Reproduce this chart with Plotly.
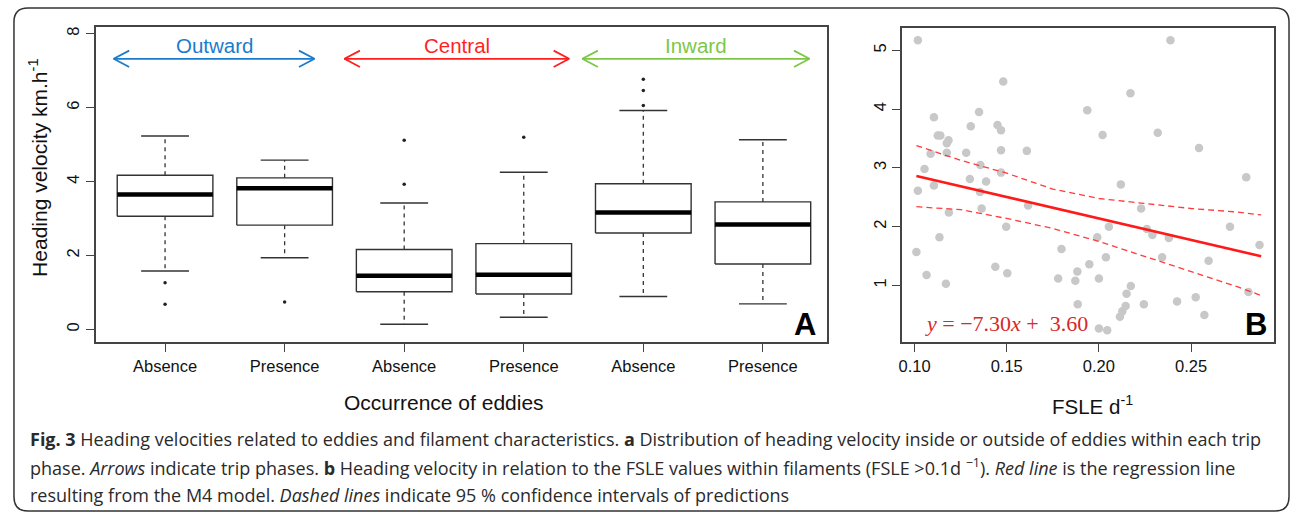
import plotly.graph_objects as go

W, H = 1292, 514

# ---------------- Panel A data (box statistics) -------------
box_labels = ["Absence", "Presence", "Absence", "Presence", "Absence", "Presence"]
box_pos = [1, 2, 3, 4, 5, 6]
lower_whisker = [1.58, 1.94, 0.14, 0.33, 0.89, 0.69]
q1 = [3.06, 2.82, 1.02, 0.96, 2.61, 1.77]
median = [3.65, 3.82, 1.45, 1.48, 3.16, 2.84]
q3 = [4.17, 4.10, 2.16, 2.32, 3.94, 3.45]
upper_whisker = [5.23, 4.58, 3.42, 4.25, 5.92, 5.13]
outlier_pos = [1, 1, 2, 3, 3, 4, 5, 5, 5]
outlier_val = [1.26, 0.68, 0.74, 5.12, 3.93, 5.20, 6.77, 6.46, 6.06]

phase_names = ["Outward", "Central", "Inward"]
phase_start = [0.57, 2.50, 4.49]
phase_end = [2.25, 4.38, 6.39]
phase_colors = ["#1b7ccc", "#ff1f1f", "#7cc846"]

# ---------------- Panel B data ----------------
fsle = [0.1018, 0.1018, 0.101, 0.1054, 0.1065, 0.1087, 0.1105, 0.1105, 0.1126, 0.114,
        0.1135, 0.1175, 0.1184, 0.1175, 0.117, 0.1186, 0.128, 0.130, 0.1305, 0.135,
        0.1357, 0.1355, 0.1364, 0.1388, 0.1438, 0.145, 0.1469, 0.1469, 0.1469, 0.1481,
        0.1497, 0.1503, 0.1609, 0.1616, 0.1779, 0.1797, 0.1872, 0.1883, 0.1885, 0.1937,
        0.1948, 0.1991, 0.2000, 0.2000, 0.202, 0.2038, 0.2045, 0.2054, 0.2119, 0.2114,
        0.2127, 0.2145, 0.215, 0.2173, 0.2171, 0.2229, 0.2244, 0.2260, 0.229, 0.2319,
        0.2343, 0.2379, 0.2388, 0.2424, 0.2525, 0.2543, 0.2572, 0.2595, 0.2711, 0.2799,
        0.2811, 0.2871]
velocity = [5.17, 2.61, 1.57, 2.98, 1.18, 3.24, 3.86, 2.70, 3.55, 3.55,
            1.82, 3.42, 3.47, 3.26, 1.03, 2.24, 3.26, 2.81, 3.71, 3.95,
            3.05, 2.59, 2.31, 2.77, 1.32, 3.73, 3.64, 3.30, 2.92, 4.47,
            2.00, 1.21, 3.29, 2.36, 1.12, 1.62, 1.08, 1.24, 0.68, 3.98,
            1.36, 1.82, 1.12, 0.27, 3.56, 1.48, 0.24, 2.00, 2.72, 0.47,
            0.56, 0.65, 0.86, 0.99, 4.27, 2.31, 0.68, 1.96, 1.86, 3.60,
            1.48, 1.81, 5.17, 0.73, 0.80, 3.34, 0.50, 1.42, 2.00, 2.84,
            0.89, 1.69]

slope, intercept = -7.30, 3.60
reg_x = [0.101, 0.288]
ci_x = [0.101, 0.125, 0.15, 0.175, 0.20, 0.225, 0.25, 0.275, 0.288]
ci_upper = [3.38, 3.13, 2.91, 2.64, 2.48, 2.39, 2.31, 2.25, 2.20]
ci_lower = [2.34, 2.29, 2.14, 1.97, 1.75, 1.49, 1.24, 0.98, 0.83]

# ---------------- build figure ----------------
fig = go.Figure()
BW = 0.8   # box width
CW = 0.4   # cap width
frame_col = "#444444"

rect_x, rect_y, wx, wy, cx, cy, mx, my = [], [], [], [], [], [], [], []
for p, lo, a, m, b, hi in zip(box_pos, lower_whisker, q1, median, q3, upper_whisker):
    rect_x += [p - BW / 2, p + BW / 2, p + BW / 2, p - BW / 2, p - BW / 2, None]
    rect_y += [a, a, b, b, a, None]
    wx += [p, p, None, p, p, None]
    wy += [b, hi, None, a, lo, None]
    cx += [p - CW / 2, p + CW / 2, None, p - CW / 2, p + CW / 2, None]
    cy += [hi, hi, None, lo, lo, None]
    mx += [p - BW / 2, p + BW / 2, None]
    my += [m, m, None]

fig.add_trace(go.Scatter(x=wx, y=wy, mode="lines", line=dict(color="#333", width=1.3, dash="4px,4px"),
                         xaxis="x", yaxis="y", showlegend=False, hoverinfo="skip"))
fig.add_trace(go.Scatter(x=cx, y=cy, mode="lines", line=dict(color="#333", width=1.4),
                         xaxis="x", yaxis="y", showlegend=False, hoverinfo="skip"))
fig.add_trace(go.Scatter(x=rect_x, y=rect_y, mode="lines", line=dict(color="#333", width=1.4),
                         xaxis="x", yaxis="y", showlegend=False, hoverinfo="skip"))
fig.add_trace(go.Scatter(x=mx, y=my, mode="lines", line=dict(color="#000", width=4.5),
                         xaxis="x", yaxis="y", showlegend=False, hoverinfo="skip"))
fig.add_trace(go.Scatter(x=outlier_pos, y=outlier_val, mode="markers",
                         marker=dict(color="#222", size=3.5),
                         xaxis="x", yaxis="y", showlegend=False, hoverinfo="skip"))

# double-headed phase arrows (shaft + open chevron heads)
ARROW_Y, LABEL_Y = 7.32, 7.68
HEAD_DX, HEAD_DY = 0.13, 0.22   # chevron size in data units
annotations = []
for name, s, e, col in zip(phase_names, phase_start, phase_end, phase_colors):
    ax_ = [s, e, None, s + HEAD_DX, s, s + HEAD_DX, None, e - HEAD_DX, e, e - HEAD_DX]
    ay_ = [ARROW_Y, ARROW_Y, None, ARROW_Y + HEAD_DY, ARROW_Y, ARROW_Y - HEAD_DY, None,
           ARROW_Y + HEAD_DY, ARROW_Y, ARROW_Y - HEAD_DY]
    fig.add_trace(go.Scatter(x=ax_, y=ay_, mode="lines", line=dict(color=col, width=1.8),
                             xaxis="x", yaxis="y", showlegend=False, hoverinfo="skip"))
    annotations.append(dict(x=(s + e) / 2, y=LABEL_Y, xref="x", yref="y", text=name,
                            xanchor="center", yanchor="middle", showarrow=False,
                            font=dict(family="Liberation Sans, Arial", size=20.5, color=col)))

# Panel B traces
fig.add_trace(go.Scatter(x=fsle, y=velocity, mode="markers",
                         marker=dict(color="#c8c8c8", size=8.5),
                         xaxis="x2", yaxis="y2", showlegend=False))
fig.add_trace(go.Scatter(x=reg_x, y=[slope * v + intercept for v in reg_x], mode="lines",
                         line=dict(color="#ff1a1a", width=2.6),
                         xaxis="x2", yaxis="y2", showlegend=False))
for ci in (ci_upper, ci_lower):
    fig.add_trace(go.Scatter(x=ci_x, y=ci, mode="lines",
                             line=dict(color="#ff3b3b", width=1.3, dash="6px,4px"),
                             xaxis="x2", yaxis="y2", showlegend=False))


def px(x):
    return x / W


def py(y):
    return 1 - y / H


txt = dict(family="Liberation Sans, Arial", color="#111")
C = dict(xref="paper", yref="paper", showarrow=False, xanchor="center", yanchor="middle")
annotations += [
    dict(x=px(34), y=py(167), text="Heading velocity km.h<sup>-1</sup>",
         textangle=-90, font=dict(size=21, **txt), **C),
    dict(x=px(441), y=py(402), text="Occurrence of eddies", font=dict(size=21, **txt), **C),
    dict(x=px(1092), y=py(405), text="FSLE d<sup>-1</sup>", font=dict(size=20.5, **txt), **C),
    dict(x=px(803), y=py(324), text="<b>A</b>",
         font=dict(family="Liberation Sans, Arial", size=31, color="#000"), **C),
    dict(x=px(1256), y=py(324), text="<b>B</b>",
         font=dict(family="Liberation Sans, Arial", size=31, color="#000"), **C),
]
annotations.append(dict(x=px(922), y=py(323), xref="paper", yref="paper", xanchor="left",
                        yanchor="middle", text="<i>y</i> = −7.30<i>x</i> +  3.60", showarrow=False,
                        font=dict(family="Liberation Serif, DejaVu Serif", size=22, color="#d42a2a")))

cap_font = dict(family="Open Sans", size=18, color="#2a2a2a")
captions = [
    "<b>Fig. 3</b> Heading velocities related to eddies and filament characteristics. <b>a</b> Distribution of heading velocity inside or outside of eddies within each trip",
    "phase. <i>Arrows</i> indicate trip phases. <b>b</b> Heading velocity in relation to the FSLE values within filaments (FSLE >0.1d <sup>−1</sup>). <i>Red line</i> is the regression line",
    "resulting from the M4 model. <i>Dashed lines</i> indicate 95 % confidence intervals of predictions",
]
for i, c in enumerate(captions):
    annotations.append(dict(x=px(24), y=py(439 + 28 * i), xref="paper", yref="paper",
                            xanchor="left", yanchor="middle", text=c, showarrow=False,
                            align="left", font=cap_font))

# outer rounded frame
L, R, T, B, r = 10, 1289, 8, 511, 14


def P(x, y):
    return f"{px(x):.5f},{py(y):.5f}"


frame_path = (f"M {P(L + r, T)} L {P(R - r, T)} Q {P(R, T)} {P(R, T + r)} "
              f"L {P(R, B - r)} Q {P(R, B)} {P(R - r, B)} L {P(L + r, B)} "
              f"Q {P(L, B)} {P(L, B - r)} L {P(L, T + r)} Q {P(L, T)} {P(L + r, T)} Z")

tickfont = dict(family="Liberation Sans, Arial", size=16.5, color="#111")
axis_common = dict(showline=True, mirror=True, linecolor=frame_col, linewidth=1.5,
                   ticks="outside", ticklen=8, tickcolor=frame_col, tickwidth=1.3,
                   showgrid=False, zeroline=False, tickfont=tickfont)

fig.update_layout(
    width=W, height=H, margin=dict(l=0, r=0, t=0, b=0),
    paper_bgcolor="white", plot_bgcolor="white", showlegend=False,
    xaxis=dict(domain=[px(92), px(826)], range=[0.42, 6.54], tickvals=box_pos,
               ticktext=box_labels, anchor="y", **axis_common),
    yaxis=dict(domain=[py(342), py(27)], range=[-0.34, 8.18], tickvals=[0, 2, 4, 6, 8],
               tickangle=-90, anchor="x", **axis_common),
    xaxis2=dict(domain=[px(901), px(1274)], range=[0.0933, 0.295],
                tickvals=[0.10, 0.15, 0.20, 0.25], ticktext=["0.10", "0.15", "0.20", "0.25"],
                anchor="y2", **axis_common),
    yaxis2=dict(domain=[py(342), py(28)], range=[0.039, 5.38], tickvals=[1, 2, 3, 4, 5],
                tickangle=-90, anchor="x2", **axis_common),
    annotations=annotations,
    shapes=[dict(type="path", path=frame_path, xref="paper", yref="paper",
                 line=dict(color="#333", width=1.5))],
)

fig.write_html("out.html", config={"displayModeBar": False},
               post_script="document.body.style.margin='0';document.body.style.overflow='hidden';")
